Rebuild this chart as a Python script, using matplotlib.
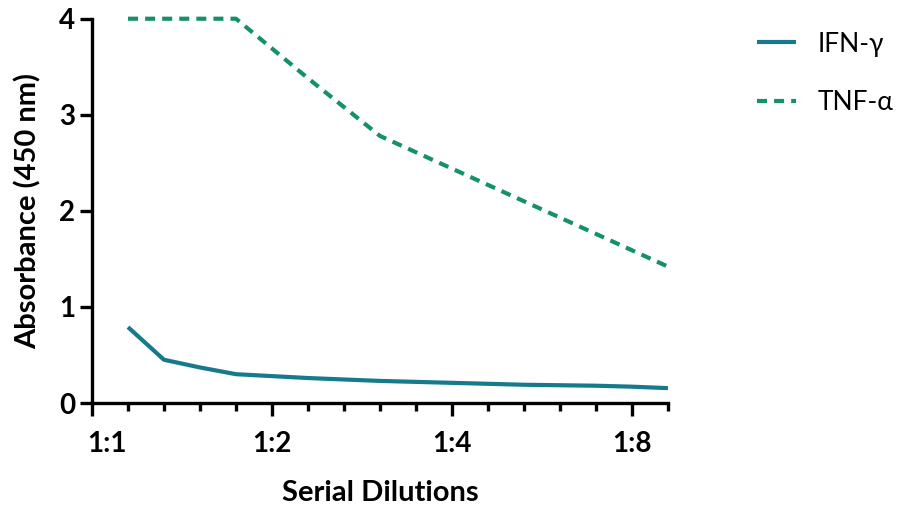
import numpy as np
import matplotlib
matplotlib.use("Agg")
import matplotlib.pyplot as plt
import matplotlib.transforms as mtransforms
from matplotlib.ticker import FixedLocator, NullFormatter

# dilution steps (log2 units, 0.2 steps)
dilution_log2 = [0.2, 0.4, 0.6, 0.8, 1.0, 1.2, 1.4, 1.6, 1.8, 2.0,
                 2.2, 2.4, 2.6, 2.8, 3.0, 3.2]
ifn_gamma = [0.79, 0.45, 0.37, 0.30, 0.28, 0.26, 0.245, 0.23, 0.22, 0.21,
             0.20, 0.19, 0.185, 0.18, 0.17, 0.155]
tnf_alpha = [4.0, 4.0, 4.0, 4.0, 3.69, 3.38, 3.08, 2.78, 2.61, 2.44,
             2.27, 2.10, 1.93, 1.76, 1.59, 1.42]

x_ticks = [1, 2, 4, 8]
x_labels = ["1:1", "1:2", "1:4", "1:8"]
y_ticks = [0, 1, 2, 3, 4]

ifn_color = "#17798c"
tnf_color = "#14906a"

plt.rcParams["font.family"] = ["Lato", "DejaVu Sans"]

fig = plt.figure(figsize=(9.02, 5.13), dpi=100)
ax = fig.add_axes([0.102, 0.2144, 0.6385, 0.7491])

x = 2.0 ** np.array(dilution_log2)
ax.plot(x, ifn_gamma, color=ifn_color, lw=3, solid_capstyle="butt",
        clip_on=False, label="IFN-γ")
ax.plot(x, tnf_alpha, color=tnf_color, lw=3, dashes=(2.4, 1.7),
        clip_on=False, label="TNF-α")

ax.set_xscale("log", base=2)
ax.set_xlim(1, 2 ** 3.2)
ax.set_ylim(0, 4)

ax.xaxis.set_major_locator(FixedLocator(x_ticks))
ax.set_xticklabels(x_labels)
minor = [2 ** (k * 0.2) for k in range(17) if k % 5 != 0]
ax.xaxis.set_minor_locator(FixedLocator(minor))
ax.xaxis.set_minor_formatter(NullFormatter())
ax.set_yticks(y_ticks)

for s in ["top", "right"]:
    ax.spines[s].set_visible(False)
for s in ["left", "bottom"]:
    ax.spines[s].set_linewidth(2.4)

ax.tick_params(axis="both", which="major", width=2.4, length=9, labelsize=20, pad=3)
ax.tick_params(axis="x", which="major", pad=11)
ax.tick_params(axis="x", which="minor", width=2.4, length=5.5)
for lab in ax.get_xticklabels() + ax.get_yticklabels():
    lab.set_fontweight("bold")

# first label sits a bit right of the axis corner
first = ax.get_xticklabels()[0]
first.set_transform(first.get_transform() +
                    mtransforms.ScaledTranslation(15 / 100, 0, fig.dpi_scale_trans))

ax.set_xlabel("Serial Dilutions", fontsize=21, fontweight="bold")
ax.set_ylabel("Absorbance (450 nm)", fontsize=21, fontweight="bold")
ax.xaxis.set_label_coords(0.5, -0.234)
ax.xaxis.label.set_va("center")
ax.yaxis.set_label_coords(-0.111, 0.5)
ax.yaxis.label.set_va("center")

ax.legend(loc="center left", bbox_to_anchor=(746 / 902, 1 - 73.5 / 513),
          bbox_transform=fig.transFigure, frameon=False, borderaxespad=0,
          fontsize=19, handlelength=1.5, labelspacing=1.28, handletextpad=0.8)

fig.savefig("out.png", dpi=100)
